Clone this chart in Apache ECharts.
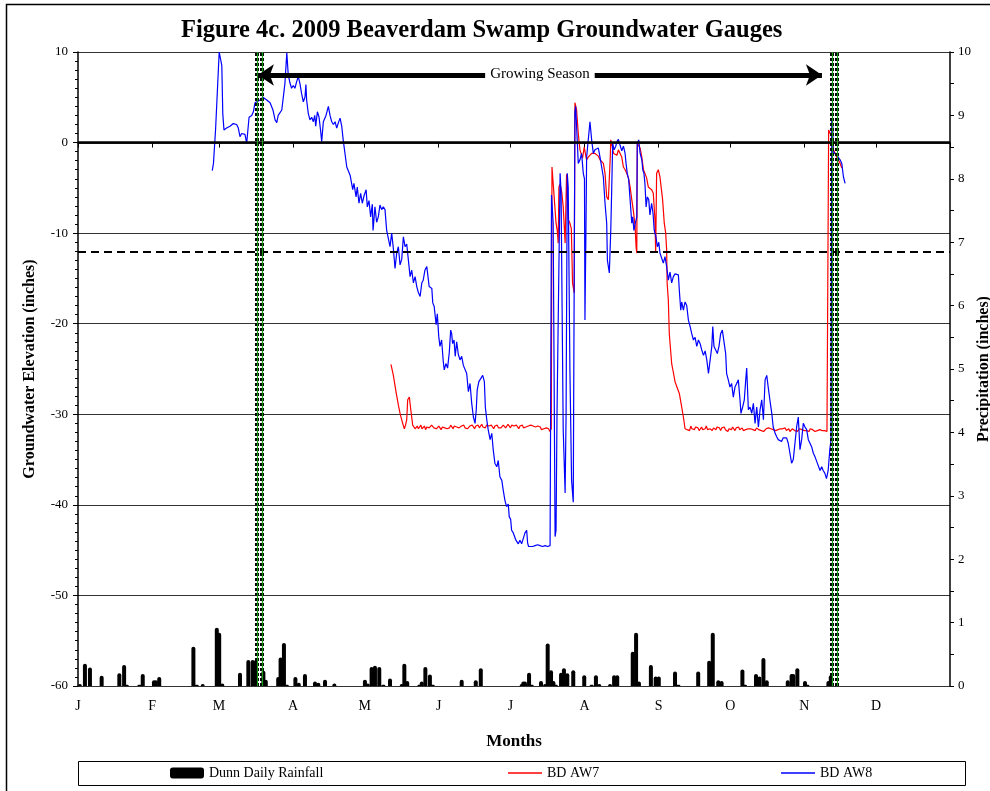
<!DOCTYPE html>
<html>
<head>
<meta charset="utf-8">
<script src="https://cdn.jsdelivr.net/npm/echarts@6/dist/echarts.min.js"></script>
<style>html,body{margin:0;padding:0;background:#fff;overflow:hidden}#c{width:990px;height:791px}</style>
</head>
<body>
<div id="c"></div>
<script>
// ---------- DATA ----------
const monthStarts = [0,31,59,90,120,151,181,212,243,273,304,334,365];
const monthLabels = ['J','F','M','A','M','J','J','A','S','O','N','D',''];

// Dunn daily rainfall [day of year, inches]
const rainfall = [[0.8,0.03],[2.9,0.35],[5.0,0.29],[9.9,0.16],[17.3,0.2],[19.3,0.33],[20.4,0.02],[25.7,0.02],[27.1,0.19],[31.8,0.09],[32.6,0.09],[34.0,0.14],[48.3,0.62],[49.7,0.02],[52.2,0.03],[58.1,0.92],[59.1,0.84],[60.4,0.04],[67.8,0.21],[71.3,0.41],[73.1,0.41],[74.5,0.41],[77.6,0.24],[78.6,0.1],[83.8,0.14],[84.8,0.45],[86.2,0.68],[87.4,0.02],[91.0,0.14],[92.4,0.05],[95.0,0.19],[99.2,0.07],[100.6,0.05],[103.4,0.1],[107.3,0.04],[120.1,0.1],[121.3,0.04],[122.9,0.3],[124.3,0.32],[126.1,0.3],[127.8,0.02],[130.6,0.12],[135.5,0.03],[136.6,0.35],[137.8,0.08],[142.9,0.02],[143.9,0.07],[145.4,0.3],[147.3,0.18],[148.5,0.02],[160.6,0.1],[166.5,0.09],[168.6,0.28],[185.7,0.03],[186.4,0.07],[187.1,0.07],[188.8,0.21],[189.9,0.02],[193.8,0.08],[195.5,0.03],[196.6,0.67],[198.0,0.25],[199.0,0.08],[200.0,0.02],[202.2,0.21],[203.4,0.28],[204.8,0.2],[207.3,0.25],[211.9,0.17],[215.0,0.02],[216.8,0.17],[218.2,0.03],[222.7,0.03],[224.4,0.17],[225.7,0.17],[232.2,0.54],[233.6,0.84],[234.8,0.07],[239.8,0.33],[241.8,0.15],[243.1,0.15],[249.9,0.23],[251.3,0.02],[259.6,0.23],[264.2,0.4],[265.7,0.84],[268.0,0.09],[269.4,0.08],[278.1,0.26],[279.2,0.02],[283.8,0.19],[285.2,0.15],[286.9,0.44],[288.3,0.09],[297.1,0.09],[298.7,0.19],[299.4,0.19],[301.1,0.28],[304.3,0.08],[305.3,0.02],[314.1,0.08],[315.1,0.17]];

// BD AW8 groundwater [day, inches]
const aw8 = [[56.2,-3.1],[56.7,-2.3],[57.1,-2.2],[57.6,1.5],[58.0,1.5],[59.1,10.0],[60.2,8.5],[60.6,3.2],[61.1,1.4],[62.2,1.6],[63.6,1.8],[65.0,2.1],[66.4,2.0],[67.1,1.6],[67.8,0.65],[68.5,1.0],[69.2,1.1],[69.9,0.9],[70.6,-0.1],[71.3,-0.1],[71.6,2.8],[72.7,3.0],[73.4,3.4],[74.1,4.4],[74.9,4.4],[76.2,4.7],[77.4,5.0],[79.0,4.7],[80.4,4.4],[81.6,3.6],[82.5,2.5],[83.2,2.2],[83.8,3.0],[84.6,3.0],[85.3,3.6],[86.2,5.6],[86.6,6.5],[87.4,9.9],[88.0,7.5],[88.7,6.6],[89.4,6.0],[90.1,6.3],[90.8,6.0],[91.5,6.7],[92.2,7.3],[92.9,6.5],[93.6,5.4],[94.3,4.5],[95.0,5.0],[95.4,6.4],[95.7,4.7],[96.4,3.2],[97.1,2.5],[97.8,2.8],[98.5,2.3],[99.1,3.0],[99.5,1.8],[100.2,3.4],[100.9,2.8],[101.6,1.2],[102.0,0.1],[102.7,2.3],[103.8,3.0],[104.8,4.0],[105.5,3.0],[106.2,2.3],[106.9,2.0],[107.6,2.3],[108.3,1.6],[109.0,2.2],[109.7,2.7],[110.4,1.8],[111.0,0.3],[111.8,0.3],[112.1,-1.9],[112.5,-2.7],[113.1,-2.6],[113.9,-3.6],[114.6,-3.4],[115.0,-5.2],[115.5,-4.5],[116.4,-6.0],[116.9,-4.9],[117.6,-6.7],[118.3,-5.6],[119.0,-6.7],[119.7,-5.9],[120.6,-5.2],[121.1,-7.1],[121.8,-6.4],[122.5,-8.2],[123.2,-6.8],[123.5,-9.7],[124.3,-7.1],[125.0,-8.8],[125.7,-8.2],[126.4,-6.9],[127.1,-7.4],[127.8,-7.1],[128.5,-7.4],[129.2,-9.7],[129.9,-9.9],[130.6,-11.5],[131.3,-10.0],[132.0,-11.7],[132.7,-13.9],[133.4,-12.2],[134.1,-11.5],[134.8,-13.5],[135.5,-12.9],[136.2,-10.4],[136.9,-11.5],[137.6,-11.2],[138.3,-13.0],[139.0,-14.8],[139.7,-14.1],[140.4,-15.5],[141.1,-14.8],[141.8,-15.9],[142.4,-16.5],[143.2,-17.0],[143.9,-15.5],[144.5,-15.2],[145.2,-14.1],[146.0,-13.7],[146.6,-13.5],[147.0,-15.9],[148.1,-16.1],[148.5,-17.7],[149.1,-18.1],[149.9,-20.1],[150.4,-18.9],[151.0,-21.4],[151.5,-22.5],[152.2,-21.8],[152.9,-24.2],[153.3,-25.1],[154.0,-24.4],[154.7,-24.9],[155.4,-23.2],[156.0,-20.7],[156.4,-21.1],[156.8,-22.2],[157.4,-21.8],[157.9,-23.6],[158.5,-22.0],[159.2,-23.4],[159.9,-24.0],[160.6,-23.6],[161.3,-24.6],[162.0,-24.4],[162.7,-25.5],[163.4,-27.5],[164.1,-26.6],[164.8,-28.8],[165.5,-30.3],[166.2,-31.0],[166.7,-29.5],[167.1,-27.3],[167.8,-26.4],[168.6,-26.2],[169.4,-25.7],[170.1,-26.4],[170.5,-29.2],[171.1,-30.6],[171.7,-31.7],[172.5,-32.8],[173.2,-32.1],[173.8,-33.9],[174.5,-35.4],[175.3,-35.8],[175.9,-35.1],[176.6,-36.9],[177.4,-37.3],[178.0,-38.4],[178.7,-39.5],[179.4,-40.2],[180.1,-39.9],[180.5,-41.3],[181.1,-41.6],[181.5,-42.8],[182.2,-43.1],[182.9,-43.1],[183.3,-43.9],[184.3,-44.3],[185.0,-43.9],[185.7,-44.3],[186.4,-44.1],[187.1,-43.1],[187.8,-42.8],[188.2,-44.2],[188.6,-44.6],[189.2,-44.4],[190.3,-44.6],[191.3,-44.5],[192.4,-44.4],[193.4,-44.5],[194.5,-44.6],[195.5,-44.5],[196.6,-44.6],[197.6,-44.5],[198.0,-44.6],[198.2,-5.8],[198.9,-8.9],[199.7,-43.5],[200.1,-42.8],[200.5,-30],[201.8,-3.4],[202.2,-5.5],[203.1,-31.7],[203.9,-38.7],[204.3,-30],[204.8,-3.4],[205.2,-5.0],[205.9,-25],[206.6,-37.3],[207.3,-39.7],[207.8,-39.7],[208.0,3.4],[208.3,4.0],[208.7,1.8],[209.4,-2.3],[210.1,-1.9],[210.8,-1.2],[211.5,-3.4],[212.0,-4.0],[212.2,-19.6],[212.6,-10],[212.9,-1.6],[213.6,-1.8],[214.3,2.3],[215.0,0.3],[215.7,-1.2],[216.4,-0.8],[217.1,-1.0],[217.8,-0.6],[218.5,-1.6],[219.2,-1.4],[219.9,-3.8],[220.6,-6.7],[221.3,-8.9],[221.6,-13.0],[222.0,-13.0],[222.4,-14.4],[223.0,-9.7],[223.4,-5.2],[223.8,-0.1],[224.4,-0.8],[225.1,-0.4],[225.6,0.1],[226.2,0.36],[226.9,-0.3],[227.6,-0.9],[228.3,-0.4],[229.0,-1.2],[229.4,-2.3],[229.9,-3.4],[230.5,-4.1],[231.1,-6.3],[231.8,-8.9],[232.2,-8.2],[232.7,-9.7],[233.3,-8.9],[233.9,-8.2],[234.1,-0.1],[234.7,0.3],[235.3,-1.2],[236.0,-1.9],[236.4,-3.0],[236.9,-3.4],[237.3,-4.5],[237.8,-7.1],[238.3,-6.0],[238.9,-6.3],[239.4,-8.0],[240.1,-6.7],[240.7,-7.8],[241.2,-9.7],[241.9,-10.4],[242.5,-11.5],[243.1,-11.0],[243.6,-12.2],[244.3,-12.2],[245.0,-13.3],[245.7,-12.6],[246.4,-13.7],[247.1,-15.2],[247.8,-14.3],[248.5,-15.5],[249.2,-14.8],[249.9,-14.5],[250.6,-14.3],[251.3,-14.6],[251.7,-16.3],[252.3,-18.5],[252.7,-17.6],[253.4,-18.5],[254.1,-17.6],[254.8,-18.0],[255.5,-19.6],[256.2,-20.3],[256.9,-21.1],[257.6,-21.8],[258.3,-21.5],[259.0,-22.5],[259.7,-21.8],[260.4,-22.2],[261.1,-22.9],[261.8,-23.5],[262.5,-23.0],[263.2,-24.0],[263.9,-25.5],[264.6,-24.0],[265.3,-22.5],[265.7,-20.3],[266.2,-22.5],[266.9,-22.5],[267.6,-23.3],[268.3,-22.5],[269.0,-21.1],[269.7,-20.7],[270.4,-20.5],[271.1,-23.3],[271.5,-25.5],[272.2,-26.2],[272.9,-27.0],[273.6,-26.6],[274.3,-28.1],[275.0,-27.0],[275.7,-26.6],[276.4,-26.2],[277.1,-28.4],[277.5,-29.9],[278.2,-29.2],[278.9,-28.4],[279.5,-26.2],[279.9,-24.9],[280.6,-29.5],[281.3,-29.2],[282.0,-29.9],[282.7,-28.8],[283.4,-31.0],[284.1,-29.2],[284.8,-31.4],[285.5,-29.5],[286.2,-28.4],[286.9,-30.6],[287.6,-26.2],[288.3,-25.7],[288.9,-27.0],[289.6,-28.4],[290.4,-29.9],[291.0,-31.4],[291.8,-32.1],[292.5,-32.5],[293.1,-32.8],[293.8,-32.6],[294.5,-33.0],[295.2,-32.6],[295.9,-32.8],[296.6,-32.6],[297.3,-33.2],[298.0,-34.3],[298.7,-35.4],[299.4,-35.0],[300.1,-33.2],[300.8,-31.4],[301.5,-30.3],[302.2,-33.9],[302.9,-32.8],[303.6,-31.0],[304.3,-31.4],[305.0,-31.7],[305.7,-32.8],[306.4,-33.2],[307.1,-33.6],[307.8,-34.3],[308.5,-34.7],[309.2,-35.2],[309.9,-35.0],[310.6,-36.2],[311.3,-35.8],[311.9,-36.2],[312.6,-36.5],[313.3,-37.1],[314.0,-36.2],[314.7,-33.9],[315.2,-32.8],[315.5,2.7],[315.9,2.0],[316.1,-1.0],[316.9,-1.2],[317.6,-1.4],[318.3,-1.6],[319.0,-1.9],[319.7,-2.3],[320.4,-3.8],[321.1,-4.5]];

// BD AW7 groundwater: typed pieces [day, inches]
const aw7Start = [[131.0,-24.5],[132.0,-25.7],[132.7,-25.9],[133.1,-27.5],[134.1,-29.0],[134.8,-29.9],[135.4,-30.1],[135.9,-31.0],[136.6,-31.6],[137.1,-31.2],[137.6,-30.6],[138.0,-28.4],[138.7,-28.1],[139.3,-29.5],[139.8,-29.5],[140.1,-31.2],[141.1,-31.6]];
// half-day readings from day 141.5
const aw7Flat1Start = 141.5;
const aw7Flat1 = [-31.5,-31.3,-31.6,-31.4,-31.2,-31.6,-31.5,-31.3,-31.7,-31.4,
-31.3,-31.5,-31.6,-31.2,-31.4,-31.5,-31.3,-31.6,-31.4,-31.3,
-31.5,-31.7,-31.4,-31.2,-31.5,-31.3,-31.6,-31.4,-31.5,-31.2,
-31.4,-31.6,-31.3,-31.5,-31.4,-31.2,-31.5,-31.6,-31.3,-31.4,
-31.2,-31.5,-31.3,-31.6,-31.4,-31.3,-31.5,-31.2,-31.4,-31.6,
-31.3,-31.4,-31.2,-31.5,-31.3,-31.1,-31.4,-31.3,-31.5,-31.2,
-31.4,-31.3,-31.5,-31.2,-31.4,-31.6,-31.3,-31.4,-31.2,-31.5,
-31.3,-31.5,-31.4,-31.2,-31.3,-31.5,-31.4,-31.1,-31.3,-31.5,
-31.2,-31.4,-31.3,-31.5,-31.2,-31.4,-31.6,-31.3,-31.4,-31.2,
-31.5,-31.3,-31.4,-31.6,-31.3,-31.5,-31.2,-31.4,-31.3,-31.5,
-31.4,-31.6,-31.3,-31.5,-31.4,-31.7,-31.5,-31.6,-31.4,-31.5,
-31.7,-31.6,-31.9];
const aw7Mid = [[198.1,-31.6],[198.4,-2.7],[198.9,-4.5],[199.7,-4.5],[200.1,-8.9],[200.6,-9.7],[201.0,-11.1],[201.3,-4.9],[201.8,-4.6],[202.5,-5.5],[203.1,-7.1],[203.6,-7.2],[203.9,-11.1],[204.5,-3.5],[205.2,-8.5],[205.9,-8.9],[206.5,-9.5],[207.0,-15.5],[207.7,-16.6],[208.0,4.4],[208.7,3.6],[209.4,1.0],[210.1,-0.8],[211.2,-1.7],[211.9,-0.5],[212.5,-1.4],[212.9,-1.9],[213.6,-1.6],[214.3,-1.4],[215.0,-1.2],[215.7,-1.0],[216.4,-1.2],[217.1,-1.4],[217.8,-1.5],[218.5,-1.9],[219.2,-2.0],[219.9,-2.3],[220.6,-3.4],[221.3,-6.0],[222.0,-6.3],[222.8,-1.6],[223.0,0.3],[223.5,-0.3],[224.2,-1.2],[224.9,-1.0],[225.6,-1.4],[226.2,-0.8],[226.9,-1.2],[227.6,-1.6],[228.3,-2.7],[229.0,-3.0],[229.7,-3.4],[230.4,-3.9],[231.1,-4.9],[231.8,-6.3],[232.5,-7.6],[233.2,-9.3],[233.6,-11.5],[233.9,-12.2],[234.1,-0.1],[234.7,0.1],[235.3,-0.6],[236.0,-1.6],[236.7,-3.0],[237.3,-3.4],[238.0,-3.9],[238.7,-4.9],[239.4,-5.0],[240.1,-5.2],[240.8,-5.6],[241.5,-8.5],[241.8,-12.2],[242.2,-3.4],[242.9,-3.0],[243.6,-3.8],[244.2,-4.0],[244.7,-6.3],[245.4,-8.9],[246.0,-10.0],[246.4,-11.9],[246.6,-15.5],[247.1,-17.4],[247.5,-21.1],[247.8,-21.2],[248.5,-24.4],[249.0,-24.6],[249.5,-25.8],[249.9,-26.4],[250.7,-26.3],[251.7,-27.7],[252.2,-27.8],[252.7,-29.2],[253.4,-30.3],[254.1,-31.6]];
const aw7Flat2Start = 254.5;
const aw7Flat2 = [-31.4,-31.7,-31.5,-31.8,-31.3,-31.6,-31.5,-31.7,-31.4,-31.6,
-31.5,-31.8,-31.6,-31.4,-31.7,-31.5,-31.6,-31.3,-31.7,-31.5,
-31.6,-31.4,-31.8,-31.5,-31.6,-31.7,-31.4,-31.6,-31.5,-31.8,
-31.5,-31.6,-31.4,-31.7,-31.5,-31.9,-31.6,-31.5,-31.7,-31.4,
-31.6,-31.8,-31.5,-31.6,-31.4,-31.7,-31.6,-31.5,-31.8,-31.6,
-31.7,-31.5,-31.6,-31.8,-31.6,-31.5,-31.7,-31.6,-31.8,-31.5,
-31.6,-31.7,-31.5,-31.8,-31.6,-31.9,-31.7,-31.6,-31.8,-31.5,
-31.7,-31.6,-31.8,-31.7,-31.5,-31.8,-31.6,-31.7,-31.9,-31.6,
-31.8,-31.6,-31.7,-31.5,-31.8,-31.7,-31.6,-31.9,-31.7,-31.6,
-31.7,-31.8,-31.6,-31.9,-31.7,-31.6,-31.8,-31.7,-31.5,-31.8,
-31.6,-31.8,-31.7,-31.9,-31.6,-31.8,-31.7,-31.6,-31.9,-31.7,
-31.8,-31.6,-31.7,-31.9,-31.8,-31.7,-31.8,-31.6,-31.9];
const aw7End = [[314.1,-31.9],[314.2,1.4],[314.8,1.4],[315.5,0.65],[316.2,-0.8],[317.6,-1.6],[319.0,-2.3],[319.7,-2.8]];

// Growing season markers (day of year) and reference levels (inches)
const growingStartLines = [74.9, 77.0];
const growingEndLines = [315.6, 317.7];
const growingArrow = {from: 75.3, to: 311.4, level: 7.46};
const groundSurface = 0;
const criteriaLevel = -12;

// ---------- BUILD ----------
function halfDay(start, vals){ return vals.map((v,i)=>[start + i*0.5, v]); }
const aw7 = [].concat(aw7Start, halfDay(aw7Flat1Start, aw7Flat1), aw7Mid, halfDay(aw7Flat2Start, aw7Flat2), aw7End);

const FONT = 'Liberation Serif';
const chart = echarts.init(document.getElementById('c'), null, {renderer:'canvas', width:990, height:791});

const vLines = [];
growingStartLines.concat(growingEndLines).forEach(d=>{
  vLines.push({xAxis:d, lineStyle:{color:'#000', width:4, type:[3,2]}});
  vLines.push({xAxis:d, lineStyle:{color:'#1a9a1a', width:1.2, type:'solid'}});
});

const option = {
  animation:false,
  backgroundColor:'#fff',
  title:{text:'Figure 4c. 2009 Beaverdam Swamp Groundwater Gauges', left:176, top:13,
    textStyle:{fontFamily:FONT, fontSize:24.5, fontWeight:'bold', color:'#000'}},
  grid:{left:78, right:40, top:52, bottom:105, containLabel:false, outerBoundsMode:'none'},
  legend:[
    {data:['Dunn Daily Rainfall'], left:170, top:766, padding:0, itemWidth:34, itemHeight:11, icon:'roundRect',
      textStyle:{fontFamily:FONT, fontSize:14, color:'#000'}},
    {data:['BD AW7'], left:508, top:766, padding:0, itemWidth:34, itemHeight:1.5, icon:'rect',
      textStyle:{fontFamily:FONT, fontSize:14, color:'#000'}},
    {data:['BD AW8'], left:781, top:766, padding:0, itemWidth:34, itemHeight:1.5, icon:'rect',
      textStyle:{fontFamily:FONT, fontSize:14, color:'#000'}}
  ],
  graphic:[
    {type:'rect', shape:{x:78.5, y:761.5, width:887, height:24}, style:{fill:'none', stroke:'#000', lineWidth:1}, z:-1},
    {type:'rect', shape:{x:6.5, y:4.5, width:1100, height:900}, style:{fill:'none', stroke:'#000', lineWidth:1.5}, z:-1}
  ],
  xAxis:{type:'value', min:0, max:365,
    name:'Months', nameLocation:'middle', nameGap:47,
    nameTextStyle:{fontFamily:FONT, fontSize:17, fontWeight:'bold', color:'#000'},
    axisLine:{lineStyle:{color:'#000', width:1.5}},
    axisTick:{show:true, length:5, customValues:monthStarts, lineStyle:{color:'#000'}},
    axisLabel:{customValues:monthStarts, margin:13, fontFamily:FONT, fontSize:14, color:'#000',
      formatter:v=>{const i=monthStarts.indexOf(v); return i>=0?monthLabels[i]:'';}},
    splitLine:{show:false}},
  yAxis:[
    {type:'value', min:-60, max:10, interval:10,
      name:'Groundwater Elevation (inches)', nameLocation:'middle', nameGap:40, nameRotate:90,
      nameTextStyle:{fontFamily:FONT, fontSize:16, fontWeight:'bold', color:'#000'},
      axisLine:{show:true, lineStyle:{color:'#000', width:1.5}},
      axisTick:{show:true, length:5, lineStyle:{color:'#000'}},
      minorTick:{show:true, splitNumber:10, length:3, lineStyle:{color:'#000'}},
      axisLabel:{fontFamily:FONT, fontSize:13, color:'#000', margin:10},
      splitLine:{show:true, lineStyle:{color:'#333', width:1}}},
    {type:'value', min:0, max:10, interval:1, position:'right',
      name:'Precipitation (inches)', nameLocation:'middle', nameGap:26, nameRotate:90, nameMoveOverlap:false,
      nameTextStyle:{fontFamily:FONT, fontSize:16, fontWeight:'bold', color:'#000'},
      axisLine:{show:true, lineStyle:{color:'#000', width:1.5}},
      axisTick:{show:true, length:4, lineStyle:{color:'#000'}},
      minorTick:{show:true, splitNumber:2, length:4, lineStyle:{color:'#000'}},
      axisLabel:{fontFamily:FONT, fontSize:13, color:'#000', margin:8},
      splitLine:{show:false}}
  ],
  series:[
    {name:'Dunn Daily Rainfall', type:'bar', yAxisIndex:1, data:rainfall, barWidth:4,
      itemStyle:{color:'#000', borderRadius:[2,2,0,0]}, z:2},
    {name:'BD AW7', type:'line', data:aw7, symbol:'none', showSymbol:false,
      lineStyle:{color:'#ff0000', width:1.2}, itemStyle:{color:'#ff0000'}, z:3},
    {name:'BD AW8', type:'line', data:aw8, symbol:'none', showSymbol:false,
      lineStyle:{color:'#0000ff', width:1.2}, itemStyle:{color:'#0000ff'}, z:4},
    {name:'refs', type:'line', data:[], z:5,
      markLine:{silent:true, symbol:'none', label:{show:false},
        data:[
          {yAxis:groundSurface, lineStyle:{color:'#000', width:2.5, type:'solid'}},
          {yAxis:criteriaLevel, lineStyle:{color:'#000', width:2, type:[8,5]}}
        ].concat(vLines)}},
    {name:'arrow', type:'line', data:[], z:6,
      markLine:{silent:true, symbol:['arrow','arrow'], symbolSize:[16,16],
        lineStyle:{color:'#000', width:5, type:'solid'},
        label:{show:true, position:'middle', formatter:'Growing Season', fontFamily:FONT, fontSize:15,
          color:'#000', backgroundColor:'#fff', padding:[1,5], distance:-8},
        data:[[{coord:[growingArrow.from, growingArrow.level]},{coord:[growingArrow.to, growingArrow.level]}]]}}
  ]
};
chart.setOption(option);
</script>
</body>
</html>
